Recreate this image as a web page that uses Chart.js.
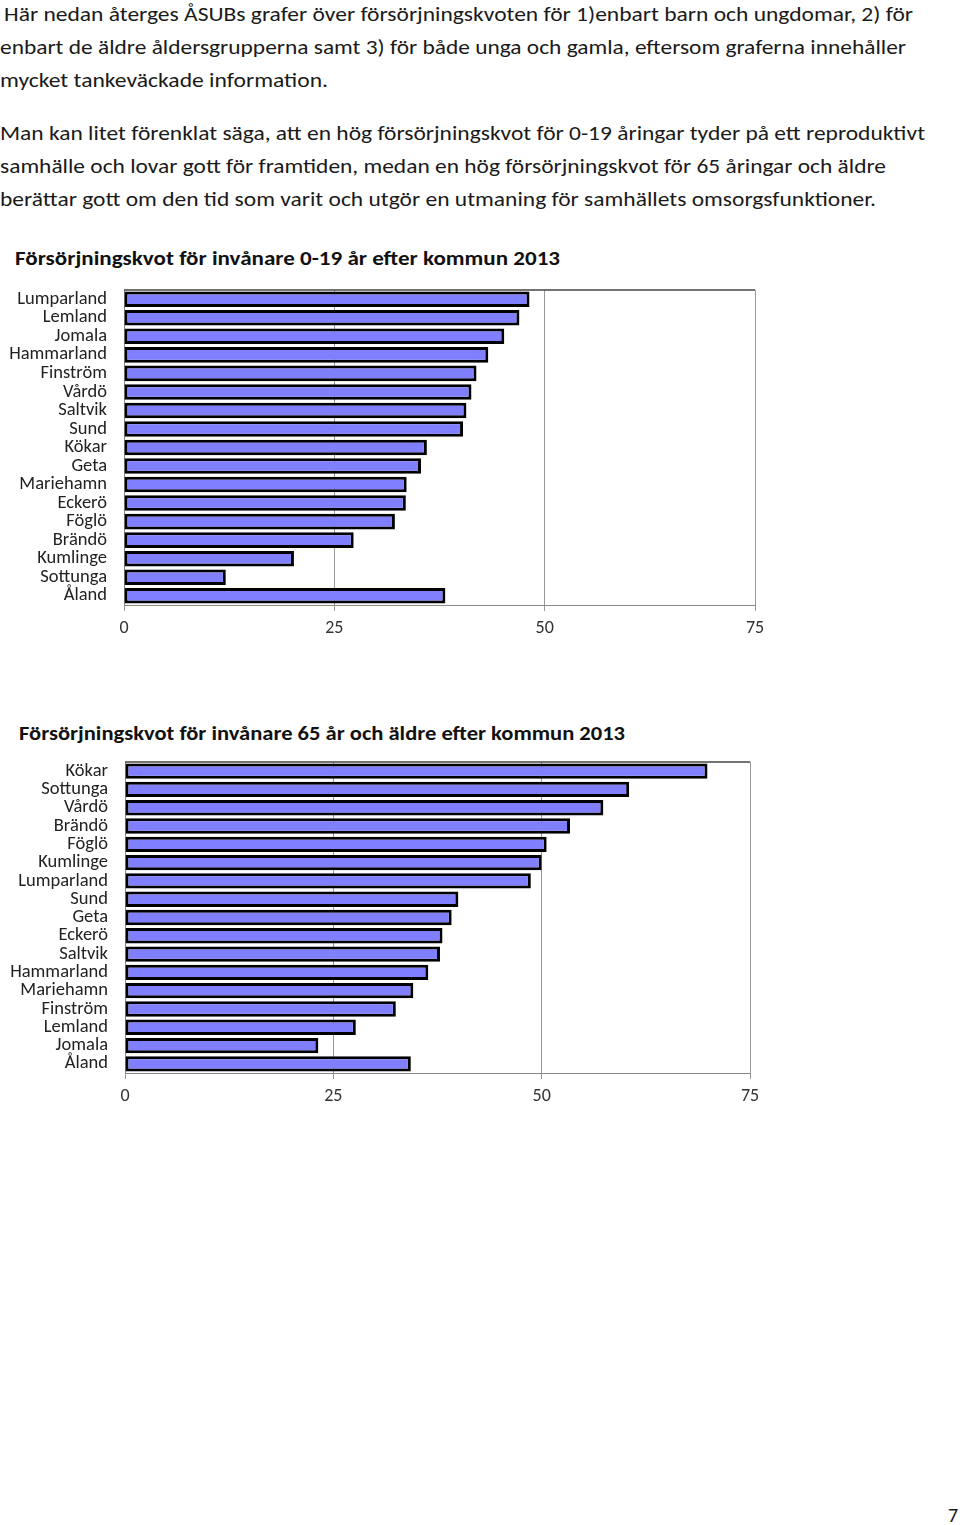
<!DOCTYPE html>
<html>
<head>
<meta charset="utf-8">
<script src="https://cdn.jsdelivr.net/npm/chart.js@4"></script>
<style>
  body { margin: 0; width: 960px; height: 1525px; background: #fff; position: relative; font-family: Carlito, Lato, sans-serif; color: #1a1a1a; overflow: hidden; }
  .line { position: absolute; left: 0; font-size: 20px; white-space: nowrap; line-height: 24px; transform-origin: left center; }
  .title { position: absolute; font-size: 20px; font-weight: bold; white-space: nowrap; line-height: 24px; transform-origin: left center; color: #111; }
  .wrap { position: absolute; left: 0; width: 780px; }
  #pageno { position: absolute; left: 948px; top: 1503px; font-size: 20px; }
</style>
</head>
<body>
<div class="line" style="top:2px;left:4px" data-w="909"> Här nedan återges ÅSUBs grafer över försörjningskvoten för 1)enbart barn och ungdomar, 2) för</div>
<div class="line" style="top:35px" data-w="906">enbart de äldre åldersgrupperna samt 3) för både unga och gamla, eftersom graferna innehåller</div>
<div class="line" style="top:68px" data-w="328">mycket tankeväckade information.</div>
<div class="line" style="top:121px" data-w="925">Man kan litet förenklat säga, att en hög försörjningskvot för 0-19 åringar tyder på ett reproduktivt</div>
<div class="line" style="top:154px" data-w="886">samhälle och lovar gott för framtiden, medan en hög försörjningskvot för 65 åringar och äldre</div>
<div class="line" style="top:187px" data-w="876">berättar gott om den tid som varit och utgör en utmaning för samhällets omsorgsfunktioner.</div>

<div class="title" style="top:246px;left:15px" data-w="545">Försörjningskvot för invånare 0-19 år efter kommun 2013</div>
<div class="wrap" style="top:280px;height:365px"><canvas id="c1"></canvas></div>

<div class="title" style="top:721px;left:19px" data-w="606">Försörjningskvot för invånare 65 år och äldre efter kommun 2013</div>
<div class="wrap" style="top:752px;height:361px"><canvas id="c2"></canvas></div>

<div id="pageno">7</div>

<script>
const youngLabels = ["Lumparland", "Lemland", "Jomala", "Hammarland", "Finström", "Vårdö", "Saltvik", "Sund", "Kökar", "Geta", "Mariehamn", "Eckerö", "Föglö", "Brändö", "Kumlinge", "Sottunga", "Åland"];
const youngValues = [48.2, 47.0, 45.2, 43.3, 41.9, 41.3, 40.7, 40.3, 36.0, 35.3, 33.6, 33.5, 32.2, 27.3, 20.2, 12.1, 38.2];

const oldLabels = ["Kökar", "Sottunga", "Vårdö", "Brändö", "Föglö", "Kumlinge", "Lumparland", "Sund", "Geta", "Eckerö", "Saltvik", "Hammarland", "Mariehamn", "Finström", "Lemland", "Jomala", "Åland"];
const oldValues = [69.9, 60.5, 57.4, 53.4, 50.6, 50.0, 48.7, 40.0, 39.2, 38.1, 37.8, 36.4, 34.6, 32.5, 27.7, 23.2, 34.3];

const xTicks = [0, 25, 50, 75];

// stretch each text line to the width it has on the page
document.querySelectorAll("[data-w]").forEach(el => {
  const w = el.getBoundingClientRect().width;
  el.style.transform = "scaleX(" + (el.dataset.w / w) + ")";
});

const topBorder = {
  id: "topBorder",
  afterDraw(chart) {
    const a = chart.chartArea, ctx = chart.ctx;
    ctx.save();
    ctx.strokeStyle = "#444";
    ctx.lineWidth = 1.5;
    ctx.beginPath();
    ctx.moveTo(a.left, a.top);
    ctx.lineTo(a.right, a.top);
    ctx.stroke();
    ctx.restore();
  }
};

function makeChart(id, labels, values, yWidth, padRight) {
  return new Chart(document.getElementById(id), {
    type: "bar",
    data: {
      labels: labels,
      datasets: [{
        data: values,
        backgroundColor: "#7f7fff",
        borderColor: "#000",
        borderWidth: 3,
        borderSkipped: false,
        barPercentage: 0.84,
        categoryPercentage: 1,
      }],
    },
    options: {
      indexAxis: "y",
      responsive: true,
      maintainAspectRatio: false,
      animation: false,
      layout: { padding: { top: 10, right: padRight, left: 0, bottom: 0 } },
      plugins: { legend: { display: false }, tooltip: { enabled: false } },
      scales: {
        x: {
          min: 0,
          max: 75,
          afterBuildTicks: s => { s.ticks = xTicks.map(v => ({ value: v })); },
          afterFit: s => { s.height = 40; },
          grid: { color: "#999", lineWidth: 1, tickLength: 6 },
          border: { color: "#888" },
          ticks: { color: "#333", padding: 7, font: { family: "Carlito, Lato, sans-serif", size: 18 } },
        },
        y: {
          afterFit: s => { s.width = yWidth; s.paddingTop = 0; s.paddingBottom = 0; },
          grid: { display: false, drawTicks: false },
          border: { color: "#888" },
          ticks: { color: "#222", padding: 17, autoSkip: false, font: { family: "Carlito, Lato, sans-serif", size: 18.5 } },
        },
      },
    },
    plugins: [topBorder],
  });
}

makeChart("c1", youngLabels, youngValues, 124, 25);
makeChart("c2", oldLabels, oldValues, 125, 30);
</script>
</body>
</html>
